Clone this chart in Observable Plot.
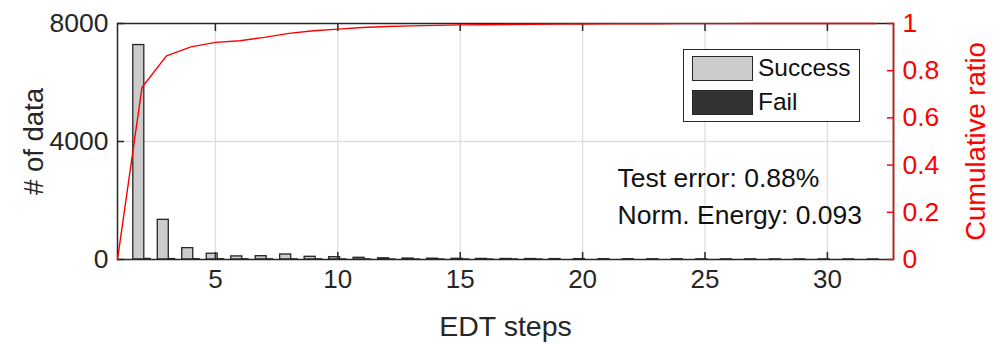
<!DOCTYPE html>
<html>
<head>
<meta charset="utf-8">
<script src="https://cdn.jsdelivr.net/npm/d3@7"></script>
<script src="https://cdn.jsdelivr.net/npm/@observablehq/plot@0.6"></script>
<style>
  html, body { margin: 0; padding: 0; background: #fff; }
  #chart { position: relative; width: 994px; height: 343px; font-family: "Liberation Sans", Arial, Helvetica, sans-serif; }
  #chart > svg { position: absolute; left: 0; top: 0; }
  #legend {
    position: absolute; left: 683px; top: 49px; width: 177px; height: 73px;
    border: 1.3px solid #262626; background: #fff; box-sizing: border-box;
  }
  .item { position: absolute; left: 8px; display: flex; align-items: center; font-size: 24.5px; color: #111; }
  .sw { width: 61px; height: 25px; border: 1.3px solid #262626; box-sizing: border-box; margin-right: 5px; }
</style>
</head>
<body>
<div id="chart">
  <div id="legend"></div>
</div>
<script>
// EDT step counts
const steps = [1, 2, 3, 4, 5, 6, 7, 8, 9, 10, 11, 12, 13, 14, 15, 16,
               17, 18, 19, 20, 21, 22, 23, 24, 25, 26, 27, 28, 29, 30, 31, 32];
const successCounts = [0, 7270, 1345, 385, 195, 105, 112, 170, 92, 78, 58, 40, 32, 28, 24, 20,
                       18, 16, 14, 12, 10, 9, 8, 7, 6, 5, 5, 4, 4, 3, 3, 2];
const failCounts = [0, 20, 15, 10, 8, 6, 5, 5, 4, 3, 3, 2, 2, 1, 1, 1,
                    1, 1, 0, 0, 0, 0, 0, 0, 0, 0, 0, 0, 0, 0, 0, 0];
const cumulativeRatio = [0, 0.729, 0.863, 0.901, 0.920, 0.927, 0.941, 0.958, 0.969, 0.976, 0.983, 0.987, 0.990, 0.992, 0.994, 0.995,
                         0.996, 0.997, 0.9975, 0.998, 0.9985, 0.999, 0.9992, 0.9994, 0.9995, 0.9996, 0.9997, 0.9998, 0.9999, 0.9999, 1.0, 1.0];
const xTicks = [5, 10, 15, 20, 25, 30];
const countTicks = [0, 4000, 8000];
const ratioTicks = [0, 0.2, 0.4, 0.6, 0.8, 1];
const seriesNames = ["Success", "Fail"];
const seriesColors = ["#cccccc", "#333333"];
const testError = "0.88%";
const normEnergy = "0.093";

const xDomain = [1, 32.7];
const fontFamily = '"Liberation Sans", Arial, Helvetica, sans-serif';
const ink = "#262626";

const dims = {width: 994, height: 343, marginLeft: 117, marginRight: 101, marginTop: 23, marginBottom: 84};

const successData = steps.map((s, i) => ({step: s, count: successCounts[i]}));
const failData = steps.map((s, i) => ({step: s, count: failCounts[i]}));
const cumData = steps.map((s, i) => ({step: s, ratio: cumulativeRatio[i]}));

const barHalf = 0.225, barShift = 0.13;
const blank = () => "";
const plain = d => String(d);

const left = Plot.plot({
  ...dims,
  style: {fontFamily, fontSize: "26px", color: ink, background: "transparent", overflow: "visible"},
  x: {domain: xDomain},
  y: {domain: [0, 8000]},
  marks: [
    Plot.gridX(xTicks, {stroke: "#dedede", strokeOpacity: 1, strokeWidth: 1.3}),
    Plot.gridY([4000], {stroke: "#dedede", strokeOpacity: 1, strokeWidth: 1.3}),
    Plot.rect(failData, {
      x1: d => d.step + barShift - barHalf, x2: d => d.step + barShift + barHalf,
      y1: 0, y2: "count", fill: seriesColors[1], stroke: ink, strokeWidth: 1.3
    }),
    Plot.rect(successData, {
      x1: d => d.step - barShift - barHalf, x2: d => d.step - barShift + barHalf,
      y1: 0, y2: "count", fill: seriesColors[0], stroke: ink, strokeWidth: 1.3
    }),
    // inward ticks on all sides
    Plot.axisX(xTicks, {anchor: "bottom", tickSize: -7, tickFormat: blank, label: null, strokeWidth: 1.5}),
    Plot.axisX(xTicks, {anchor: "top", tickSize: -7, tickFormat: blank, label: null, strokeWidth: 1.5}),
    Plot.axisY(countTicks, {anchor: "left", tickSize: -7, tickFormat: blank, label: null, strokeWidth: 1.5}),
    // tick labels
    Plot.axisX(xTicks, {anchor: "bottom", tickSize: 0, tickPadding: 10, tickFormat: plain, label: null, fontSize: 26}),
    Plot.axisY(countTicks, {anchor: "left", tickSize: 0, tickPadding: 9, tickFormat: plain, label: null, fontSize: 26.5}),
    // axis titles
    Plot.axisX([], {anchor: "bottom", tickSize: 0, label: "EDT steps",
      labelAnchor: "center", labelOffset: 76, labelArrow: "none", fontSize: 28.5}),
    Plot.axisY([], {anchor: "left", tickSize: 0, label: "# of data",
      labelAnchor: "center", labelOffset: 94, labelArrow: "none", fontSize: 27.5}),
    Plot.frame({stroke: ink, strokeWidth: 1.5}),
    Plot.text([`Test error: ${testError}`], {frameAnchor: "top-left", dx: 500, dy: 155,
      textAnchor: "start", lineAnchor: "middle", fontSize: 26.5, fill: "#111"}),
    Plot.text([`Norm. Energy: ${normEnergy}`], {frameAnchor: "top-left", dx: 500, dy: 192,
      textAnchor: "start", lineAnchor: "middle", fontSize: 26.5, fill: "#111"})
  ]
});

const right = Plot.plot({
  ...dims,
  style: {fontFamily, fontSize: "26px", color: "#ff0000", background: "transparent", overflow: "visible"},
  x: {domain: xDomain, axis: null},
  y: {domain: [0, 1]},
  marks: [
    Plot.line(cumData, {x: "step", y: "ratio", stroke: "#ff0000", strokeWidth: 1.4}),
    Plot.ruleX([xDomain[1]], {stroke: "#ff0000", strokeWidth: 1.5}),
    Plot.axisY(ratioTicks, {anchor: "right", tickSize: -7, tickFormat: blank, label: null, strokeWidth: 1.5}),
    Plot.axisY(ratioTicks, {anchor: "right", tickSize: 0, tickPadding: 9, tickFormat: plain, label: null, fontSize: 26.5}),
    Plot.axisY([], {anchor: "right", tickSize: 0, label: "Cumulative ratio",
      labelAnchor: "center", labelOffset: 91, labelArrow: "none", fontSize: 27.5})
  ]
});

const chart = document.getElementById("chart");
chart.insertBefore(left, chart.firstChild);
chart.insertBefore(right, document.getElementById("legend"));

// legend
const legend = d3.select("#legend");
seriesNames.forEach((name, i) => {
  const item = legend.append("div").attr("class", "item").style("top", (4 + i * 34) + "px");
  item.append("div").attr("class", "sw").style("background", seriesColors[i]);
  item.append("span").text(name);
});
</script>
</body>
</html>
